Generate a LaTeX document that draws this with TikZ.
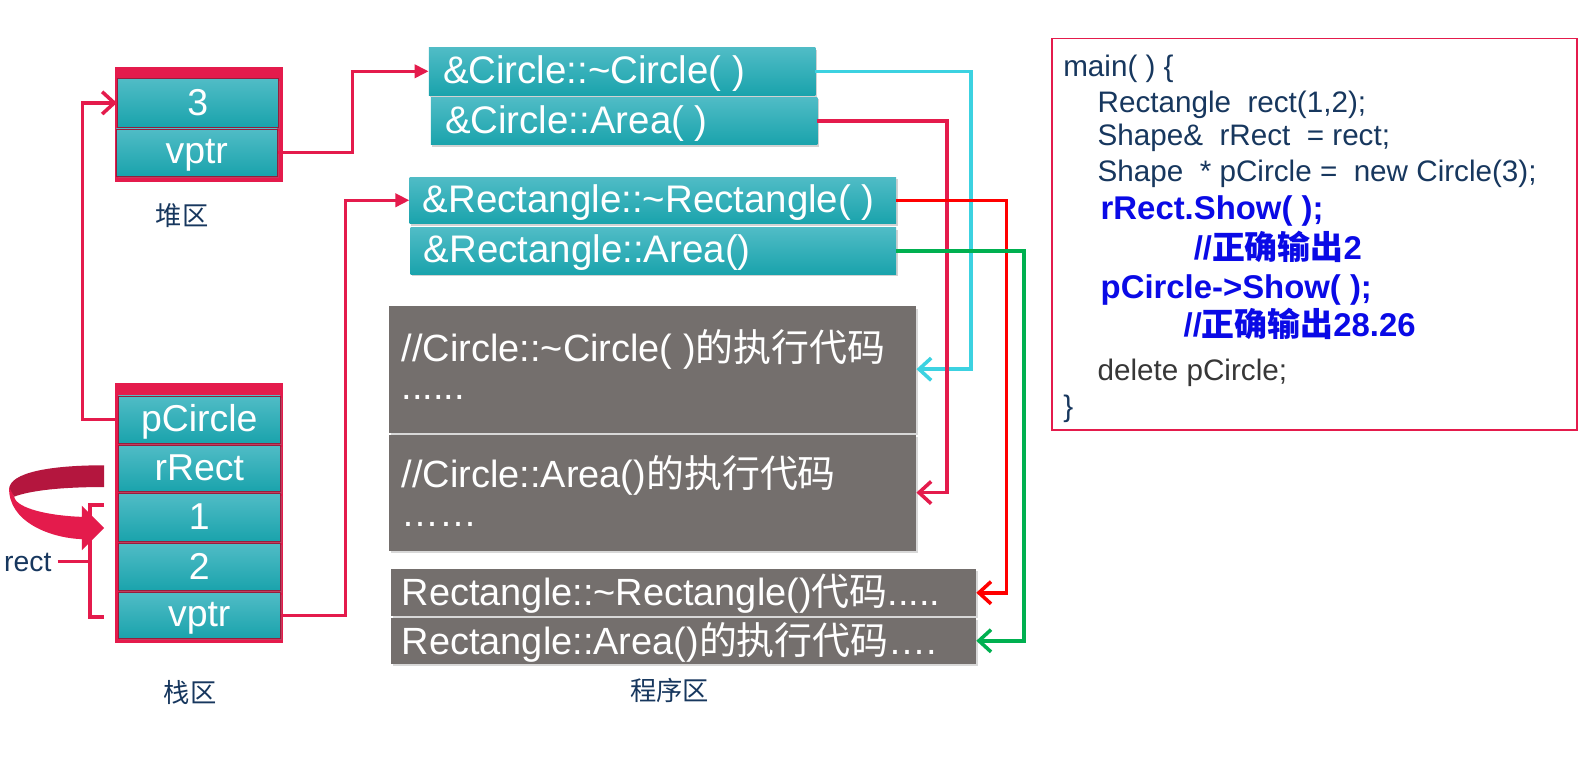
\documentclass[tikz,border=0pt]{standalone}
\usepackage{fontspec}
\setmainfont{Liberation Sans}
\newfontfamily\cjk{Noto Sans CJK SC}
\usetikzlibrary{arrows.meta,fit,shadows}
\definecolor{crim}{RGB}{228,27,76}
\definecolor{crimdark}{RGB}{180,22,62}
\definecolor{celledge}{RGB}{150,30,60}
\definecolor{tealtop}{RGB}{80,188,198}
\definecolor{tealbot}{RGB}{26,163,172}
\definecolor{greybox}{RGB}{116,111,109}
\definecolor{cyanline}{RGB}{60,210,225}
\definecolor{redline}{RGB}{255,0,0}
\definecolor{greenline}{RGB}{0,176,80}
\definecolor{codeblue}{RGB}{10,10,230}
\definecolor{navy}{RGB}{23,55,94}
\definecolor{darkgrey}{RGB}{55,55,55}
\begin{document}
\begin{tikzpicture}[x=1pt,y=-1pt,
  frame/.style={fill=crim, draw=none, inner sep=0pt},
  cell/.style={top color=tealtop, bottom color=tealbot, draw=celledge, line width=0.8pt,
    inner sep=0pt,
    drop shadow={opacity=0.35, shadow xshift=1.5pt, shadow yshift=-2pt}},
  celltext/.style={text=white, anchor=base, inner sep=0pt, font=\fontsize{37}{40}\selectfont},
  fptr/.style={top color=tealtop, bottom color=tealbot, draw=none, inner sep=0pt,
    drop shadow={opacity=0.35, shadow xshift=1.5pt, shadow yshift=-2pt}},
  ftext/.style={text=white, anchor=base west, inner sep=0pt, font=\fontsize{38}{40}\selectfont},
  gbox/.style={fill=greybox, draw=none, inner sep=0pt,
    drop shadow={opacity=0.3, shadow xshift=1.5pt, shadow yshift=-2pt}},
  gtext/.style={text=white, anchor=base west, inner sep=0pt, font=\fontsize{37.5}{40}\selectfont},
  link/.style={line width=3.5pt},
  filltip/.style={-{Triangle[length=14pt,width=13pt]}},
  barbtip/.style={-{Straight Barb[length=12pt,width=22pt]}},
  zone/.style={text=navy, inner sep=0pt, font=\fontsize{26}{30}\selectfont\cjk},
  code/.style={anchor=base west, inner sep=0pt, text=navy, font=\fontsize{29.3}{32}\selectfont},
  bcode/.style={anchor=base west, inner sep=0pt, text=codeblue, font=\fontsize{32.5}{34}\selectfont\bfseries},
]
\useasboundingbox[fill=white] (0,0) rectangle (1568,748.4);

% ---------- heap ----------
\node[frame, fit={(114,66)(280,180)}] (heap) {};
\node[cell, fit={(116,78)(275,125.5)}] (h3) {};
\node[cell, fit={(115,127.5)(274,174)}] (hv) {};
\node[celltext] (h3t) at ([yshift=-12pt]h3.center) {3};
\node[celltext] (hvt) at ([yshift=-11pt]hv.center) {vptr};
\node[zone] (heaplbl) at (180,213) {堆区};

% ---------- stack ----------
\node[frame, fit={(114,379)(280,636)}] (stack) {};
\node[cell, fit={(117,391.5)(277,438)}] (sp) {};
\node[cell, fit={(117,440)(277,486)}] (sr) {};
\node[cell, fit={(117,488)(277,535)}] (s1) {};
\node[cell, fit={(117,537)(277,584)}] (s2) {};
\node[cell, fit={(117,586)(277,631)}] (sv) {};
\node[celltext] (spt) at ([yshift=-12pt]sp.center) {pCircle};
\node[celltext] (srt) at ([yshift=-12pt]sr.center) {rRect};
\node[celltext] (s1t) at ([yshift=-12pt]s1.center) {1};
\node[celltext] (s2t) at ([yshift=-12pt]s2.center) {2};
\node[celltext] (svt) at ([yshift=-11pt]sv.center) {vptr};
\node[zone] (stacklbl) at (188,685) {栈区};

% ---------- function pointer tables ----------
\node[fptr, fit={(424,47)(806,94)}] (c1) {};
\node[fptr, fit={(426,96)(808,143)}] (c2) {};
\node[fptr, fit={(405,175)(886,221)}] (r1) {};
\node[fptr, fit={(406,225)(886,271)}] (r2) {};
\node[ftext] (c1t) at ([xshift=14pt,yshift=-12pt]c1.west) {\&Circle::\textasciitilde Circle( )};
\node[ftext] (c2t) at ([xshift=14pt,yshift=-12pt]c2.west) {\&Circle::Area( )};
\node[ftext] (r1t) at ([xshift=13pt,yshift=-12pt]r1.west) {\&Rectangle::\textasciitilde Rectangle( )};
\node[ftext] (r2t) at ([xshift=13pt,yshift=-12pt]r2.west) {\&Rectangle::Area()};

% ---------- code area ----------
\node[gbox, fit={(385,303)(906,428)}] (g1) {};
\node[gbox, fit={(385,430)(906,545)}] (g2) {};
\node[gbox, fit={(387,563)(965,609)}] (g3) {};
\node[gbox, fit={(387,611)(965,656)}] (g4) {};
\node[gtext] (g1t) at (397,357) {//Circle::\textasciitilde Circle( ){\cjk 的执行代码}};
\node[gtext] (g1d) at (397,395) {......};
\node[gtext] (g2t) at (397,482) {//Circle::Area(){\cjk 的执行代码}};
\node[gtext] (g2d) at (397,521) {……};
\node[gtext] (g3t) at (397,599) {Rectangle::\textasciitilde Rectangle(){\cjk 代码}.....};
\node[gtext] (g4t) at (397,647) {Rectangle::Area(){\cjk 的执行代码}….};
\node[zone] (proglbl) at (662,683) {程序区};
\coordinate (g1in) at (906,365);
\coordinate (g2in) at (906,487);

% ---------- connectors ----------
\draw[link, crim, filltip] (hv.east) -- ++(74,0) |- (c1.west);
\draw[link, crim, filltip] (sv.east) -- ++(64,0) |- (r1.west);
\draw[link, crim, barbtip] (sp.west) -- ++(-35,0) |- (h3.west);
\draw[link, cyanline, barbtip] (c1.east) -- ++(154,0) |- (g1in);
\draw[link, crim, barbtip] (c2.east) -- ++(128,0) |- (g2in);
\draw[link, redline, barbtip] (r1.east) -- ++(109,0) |- (g3.east);
\draw[link, greenline, barbtip] (r2.east) -- ++(126,0) |- (g4.east);

% ---------- rect bracket and ribbon arrow ----------
\node[anchor=base west, inner sep=0pt, text=navy, font=\fontsize{28}{32}\selectfont] (rectlbl) at (4,565) {rect};
\coordinate (brmid) at (89,555);
\coordinate (brtop) at (103,499);
\coordinate (brbot) at (103,610);
\draw[link, crim] (rectlbl.east |- brmid) ++(6,0) -- (brmid);
\draw[link, crim] (brtop) -| (brmid) |- (brbot);
\fill[crimdark] (103,460) .. controls (50,460) and (9,467) .. (9,484)
   -- (14,491) .. controls (30,485) and (60,481.5) .. (103,481.5) -- cycle;
\fill[crim] (9,482) .. controls (8,516) and (50,532) .. (81,533)
   -- (81,544) -- (103,522) -- (81,500) -- (81,511)
   .. controls (50,510) and (16,503) .. (14,491) -- cycle;

% ---------- code listing ----------
\node[draw=crim, line width=1.5pt, inner sep=0pt, fit={(1040,38)(1559,425)}] (codebox) {};
\node[code] (l1) at (1051,76) {main( ) \{};
\node[code] (l2) at (1085,111) {Rectangle\ \ rect(1,2);};
\node[code] (l3) at (1085,144) {Shape\&\ \ rRect\ \ = rect;};
\node[code] (l4) at (1085,179) {Shape\ \ * pCircle =\ \ new Circle(3);};
\node[bcode] (l5) at (1088,217.5) {rRect.Show( );};
\node[bcode] (l6) at (1180,257) {//{\cjk 正确输出}2};
\node[bcode] (l7) at (1088,295) {pCircle->Show( );};
\node[bcode] (l8) at (1170,333) {//{\cjk 正确输出}28.26};
\node[code, text=darkgrey] (l9) at (1085,376) {delete pCircle;};
\node[code] (l10) at (1051,412) {\}};
\end{tikzpicture}
\end{document}
